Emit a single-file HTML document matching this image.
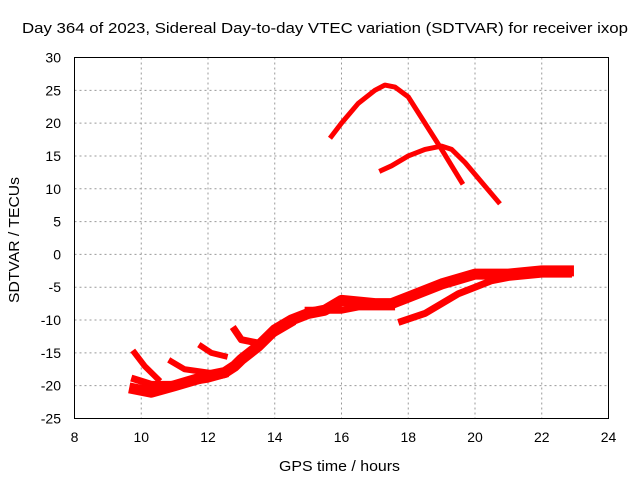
<!DOCTYPE html>
<html><head><meta charset="utf-8"><style>
body{margin:0;background:#fff;}
svg{display:block;font-family:"Liberation Sans",sans-serif;}
</style></head><body>
<svg id="chart" width="640" height="480" viewBox="0 0 640 480">
<rect width="640" height="480" fill="#fff"/>
<g id="grid"></g>
<g id="series"></g>
<rect x="74.5" y="57.5" width="534" height="361" fill="none" stroke="#000" stroke-width="1"/>
<g id="ticks"></g>
<text x="22" y="33" font-size="15" textLength="606" lengthAdjust="spacingAndGlyphs">Day 364 of 2023, Sidereal Day-to-day VTEC variation (SDTVAR) for receiver ixop</text>
<text x="279" y="471" font-size="15" textLength="121" lengthAdjust="spacingAndGlyphs">GPS time / hours</text>
<text transform="translate(19,303) rotate(-90)" font-size="15" textLength="126" lengthAdjust="spacingAndGlyphs">SDTVAR / TECUs</text>
</svg>
<script>
const xTicks=[8,10,12,14,16,18,20,22,24];
const yTicks=[30,25,20,15,10,5,0,-5,-10,-15,-20,-25];
const arc1X=[15.7,16,16.5,17,17.3,17.6,18,18.5,19,19.3,19.6];
const arc1Y=[18,20,23,25,25.8,25.5,24,20,16,13.5,11];
const arc2X=[17.2,17.5,18,18.5,19,19.3,19.7,20.2,20.7];
const arc2Y=[12.8,13.5,15,16,16.5,16,14,11,8];
const mainX=[9.8,10.3,11,12,12.5,12.8,13,13.5,14,14.5,15,15.5,16,17,17.5,18,19,20,21,22,22.8];
const mainY=[-20.5,-21,-20,-18.5,-18,-17,-16,-14,-11.5,-10,-9,-8.5,-7,-7.5,-7.5,-6.5,-4.5,-3,-3,-2.5,-2.5];
const lowX=[17.8,18.5,19,19.5,20,20.5,21,22,22.8];
const lowY=[-10.2,-9,-7.5,-6,-5,-4,-3.5,-3,-3];
const b1X=[9.8,10.1,10.5];const b1Y=[-15,-17,-19];
const b2X=[9.8,10.3,11,12,12.5];const b2Y=[-19,-19.8,-19.8,-19,-18.3];
const b3X=[10.9,11.3,12];const b3Y=[-16.3,-17.5,-18];
const b4X=[11.8,12.1,12.5];const b4Y=[-14,-15,-15.5];
const b5X=[12.8,13,13.5,14,14.5];const b5Y=[-11.5,-13,-13.5,-12,-10.5];
const b6X=[15,16,16.5,17,17.5];const b6Y=[-8.5,-8.5,-8,-8,-8];
const X=v=>74.5+(v-8)*534/16;
const Y=v=>57.5+(30-v)*361/55;
const NS="http://www.w3.org/2000/svg";
const grid=document.getElementById('grid'),ticks=document.getElementById('ticks'),ser=document.getElementById('series');
function mk(t,a,p){const e=document.createElementNS(NS,t);for(const k in a)e.setAttribute(k,a[k]);p.appendChild(e);return e;}
xTicks.forEach(v=>{const x=X(v);
if(v>8&&v<24){const g=mk('line',{x1:x,x2:x,y1:57.5,y2:418.5,stroke:'#999','stroke-dasharray':'2,3'},grid);

}
const t=mk('text',{x:x,y:442,'text-anchor':'middle','font-size':14},ticks);t.textContent=v;

});
yTicks.forEach(v=>{const y=Y(v);
if(v>-25&&v<30){const g=mk('line',{x1:74.5,x2:608.5,y1:y,y2:y,stroke:'#999','stroke-dasharray':'2,3'},grid);

}
const t=mk('text',{x:61,y:y+5,'text-anchor':'end','font-size':14},ticks);t.textContent=v;

});
const series=[[arc1X,arc1Y,'arc-1',5],[arc2X,arc2Y,'arc-2',5],[mainX,mainY,'main-band',11],[lowX,lowY,'lower-band',7],[b1X,b1Y,'branch-1',6],[b2X,b2Y,'branch-2',7],[b3X,b3Y,'branch-3',6],[b4X,b4Y,'branch-4',6],[b5X,b5Y,'branch-5',7],[b6X,b6Y,'branch-6',7]];
series.forEach(([xs,ys,n,w])=>{const pts=xs.map((x,i)=>X(x)+','+Y(ys[i])).join(' ');
const p=mk('polyline',{points:pts,fill:'none',stroke:'#f00','stroke-width':w,'stroke-linejoin':'round','stroke-linecap':'square'},ser);

});
</script>
</body></html>
